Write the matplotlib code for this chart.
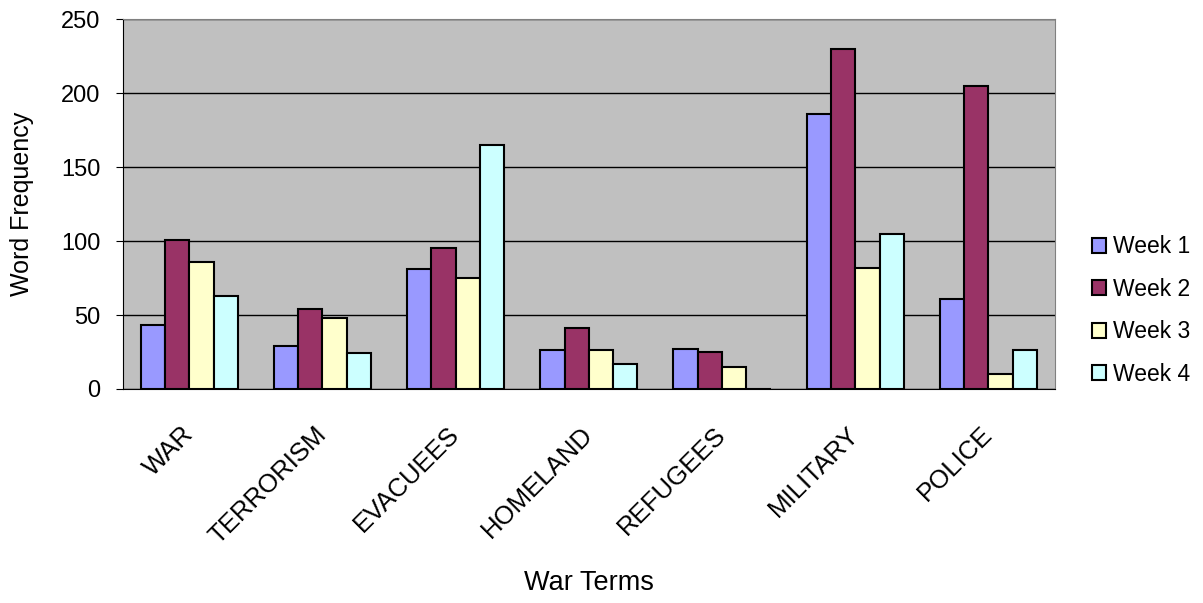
import numpy as np
import matplotlib.pyplot as plt

plt.rcParams['font.family'] = ['Liberation Sans', 'DejaVu Sans']

terms = ["WAR", "TERRORISM", "EVACUEES", "HOMELAND", "REFUGEES", "MILITARY", "POLICE"]
week1 = [43, 29, 81, 26, 27, 186, 61]
week2 = [101, 54, 95, 41, 25, 230, 205]
week3 = [86, 48, 75, 26, 15, 82, 10]
week4 = [63, 24, 165, 17, 0, 105, 26]
weeks = ["Week 1", "Week 2", "Week 3", "Week 4"]
colors = ["#9999FF", "#993366", "#FFFFCC", "#CCFFFF"]

fig = plt.figure(figsize=(12.03, 6.03), dpi=100)
ax = fig.add_axes([0.102, 0.355, 0.775, 0.613])
ax.set_facecolor("#C0C0C0")

x = np.arange(len(terms))
w = 0.1825
for i, (vals, lab, c) in enumerate(zip([week1, week2, week3, week4], weeks, colors)):
    ax.bar(x + (i - 1.5) * w, vals, w, color=c, edgecolor="black", linewidth=1.5,
           label=lab, zorder=3)

ax.set_xlim(-0.5, len(terms) - 0.5)
ax.set_ylim(0, 250)
ax.set_yticks(range(0, 251, 50))
ax.yaxis.grid(True, color="black", linewidth=1, zorder=1)
ax.tick_params(axis="y", labelsize=17, length=5, direction="out", pad=11)
ax.tick_params(axis="x", length=0, pad=30)
ax.set_xticks(x)
ax.set_xticklabels(terms, rotation=45, ha="right", va="center",
                   rotation_mode="anchor", fontsize=18.5)

for s in ["top", "right"]:
    ax.spines[s].set_color("#808080")
for s in ["left", "bottom"]:
    ax.spines[s].set_color("black")

ax.set_ylabel("Word Frequency", fontsize=18)
ax.yaxis.set_label_coords(-0.095, 0.5)
ax.set_xlabel("War Terms", fontsize=19.5)
ax.xaxis.set_label_coords(0.5, -0.49)

ax.legend(loc="center left", bbox_to_anchor=(1.018, 0.212), frameon=False,
          fontsize=16.5, handlelength=0.6, handleheight=0.6, handletextpad=0.3,
          labelspacing=0.85)

fig.savefig("out.png", dpi=100)
